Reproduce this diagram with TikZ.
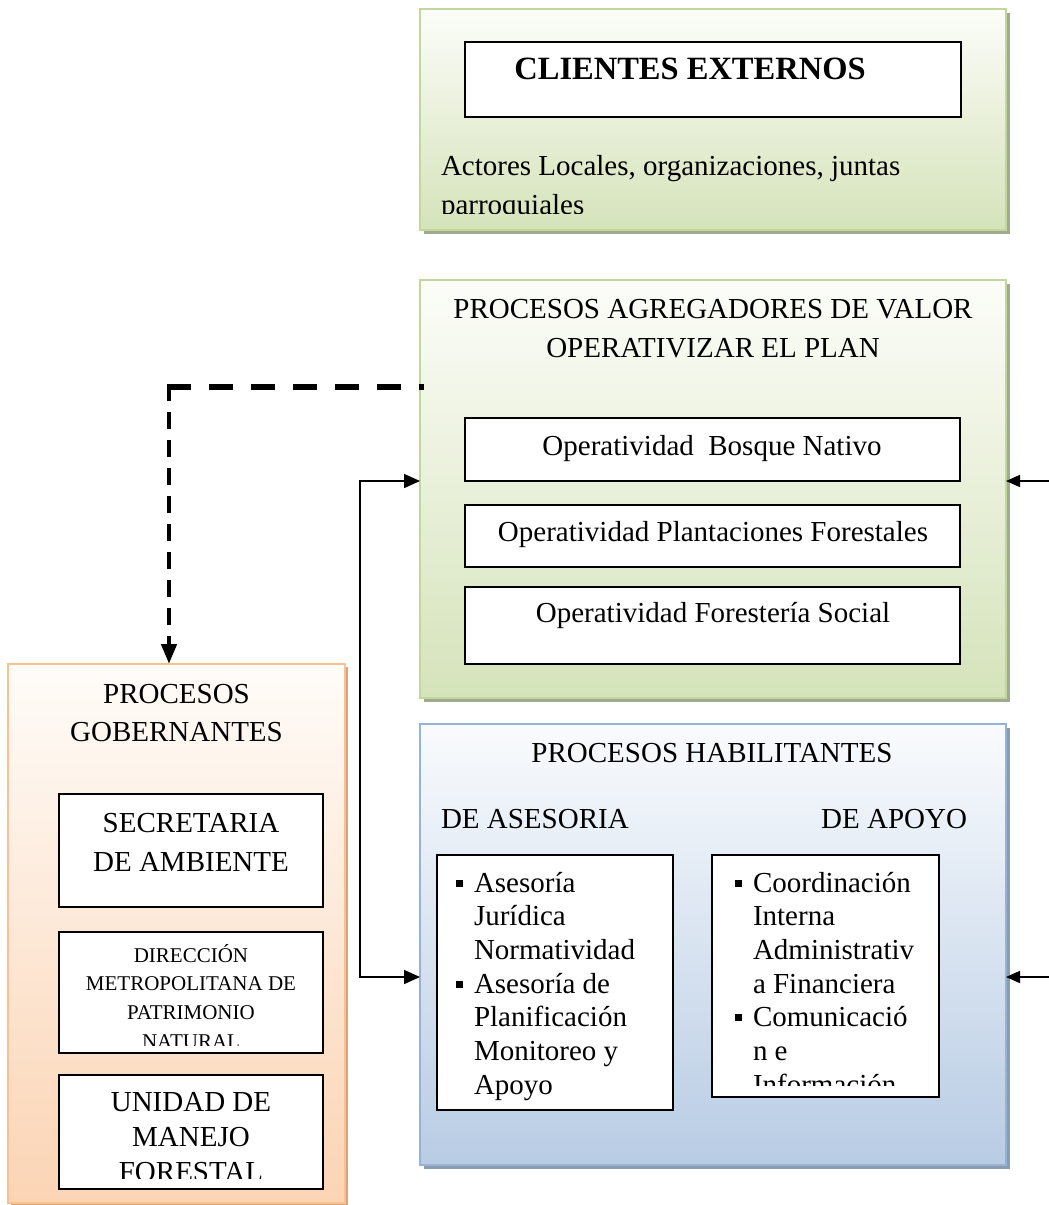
\documentclass[tikz,border=0pt]{standalone}
\usepackage{fontspec}
\setmainfont{Liberation Serif}
\usetikzlibrary{arrows.meta,shadows,calc}
\definecolor{grnB}{RGB}{213,227,186}
\definecolor{grnT}{RGB}{252,253,249}
\definecolor{grnL}{RGB}{195,214,155}
\definecolor{grnS}{RGB}{160,170,145}
\definecolor{bluB}{RGB}{184,204,228}
\definecolor{bluT}{RGB}{249,251,253}
\definecolor{bluL}{RGB}{149,179,215}
\definecolor{bluS}{RGB}{140,155,175}
\definecolor{orgB}{RGB}{251,212,180}
\definecolor{orgT}{RGB}{255,252,249}
\definecolor{orgL}{RGB}{250,192,144}
\definecolor{orgS}{RGB}{215,165,125}
\newcommand{\fsz}[2]{\fontsize{#1}{#2}\selectfont}
\newcommand{\blt}{\makebox[18pt][l]{\raisebox{5.5pt}{\rule{7pt}{7pt}}}}
\newcommand{\ind}{\hspace*{18pt}}
\begin{document}
\begin{tikzpicture}[x=1pt,y=-1pt,
  bx/.style={rectangle, inner sep=0pt, outer sep=0pt, anchor=north west},
  grnbox/.style={bx, draw=grnL, line width=1.5pt, top color=grnT, bottom color=grnB,
     general shadow={fill=grnS, shadow xshift=4pt, shadow yshift=-4pt}},
  blubox/.style={bx, draw=bluL, line width=1.5pt, top color=bluT, bottom color=bluB,
     general shadow={fill=bluS, shadow xshift=4pt, shadow yshift=-4pt}},
  orgbox/.style={bx, draw=orgL, line width=2pt, top color=orgT, bottom color=orgB,
     general shadow={fill=orgS, shadow xshift=3pt, shadow yshift=-3pt}},
  inbox/.style={bx, draw=black, line width=1.4pt, fill=white},
  lbl/.style={inner sep=0pt, outer sep=0pt},
  big/.style={lbl, font=\fsz{29}{39}},
  conn/.style={line width=1.6pt},
  dashH/.style={line width=6pt, dash pattern=on 24pt off 18pt},
  dashV/.style={line width=4.5pt, dash pattern=on 17pt off 11pt}
]
\useasboundingbox (0,0) rectangle (1049,1205);

% ---------- outer boxes ----------
\node[grnbox, minimum width=586pt, minimum height=221pt] (cli) at (420,9) {};
\node[grnbox, minimum width=586pt, minimum height=418pt] (agr) at (420,280) {};
\node[blubox, minimum width=586pt, minimum height=441pt] (hab) at (420,724) {};
\node[orgbox, minimum width=337pt, minimum height=539pt] (gob) at (8,664) {};

% ---------- clientes externos ----------
\node[inbox, minimum width=496pt, minimum height=75pt] (clix) at (465,42) {};
\node[lbl, anchor=base, font=\fsz{32.5}{38}\bfseries] (clit) at (690,79) {CLIENTES EXTERNOS};
\begin{scope}
\clip (425,130) rectangle (1000,213);
\node[big, anchor=north west, align=left] (act) at (441,147.7)
  {\strut Actores Locales, organizaciones, juntas\\ \strut parroquiales};
\end{scope}

% ---------- agregadores de valor ----------
\node[big, anchor=north, align=center] (agrt) at (713,290.7)
  {\strut PROCESOS AGREGADORES DE VALOR\\ \strut OPERATIVIZAR EL PLAN};
\node[inbox, minimum width=495pt, minimum height=63pt] (op1) at (465,418) {};
\node[inbox, minimum width=495pt, minimum height=62pt] (op2) at (465,505) {};
\node[inbox, minimum width=495pt, minimum height=77pt] (op3) at (465,587) {};
\node[big, anchor=base] (op1t) at (712,455) {Operatividad~ Bosque Nativo};
\node[big, anchor=base] (op2t) at (713,541) {Operatividad Plantaciones Forestales};
\node[big, anchor=base] (op3t) at (713,622) {Operatividad Forestería Social};

% ---------- gobernantes ----------
\node[lbl, font=\fsz{29}{38}, anchor=north, align=center] (gobt) at (176.5,676.4)
  {\strut PROCESOS\\ \strut GOBERNANTES};
\node[inbox, minimum width=264pt, minimum height=113pt] (sec) at (59,794) {};
\node[inbox, minimum width=264pt, minimum height=121pt] (dir) at (59,932) {};
\node[inbox, minimum width=264pt, minimum height=114pt] (uni) at (59,1075) {};
\node[big, anchor=north, align=center] (sect) at (191,804.7)
  {\strut SECRETARIA\\ \strut DE AMBIENTE};
\begin{scope}
\clip (60,933) rectangle (322,1045);
\node[lbl, font=\fsz{21}{28.7}, anchor=north, align=center] (dirt) at (191,941.9)
  {\strut DIRECCIÓN\\ \strut METROPOLITANA DE\\ \strut PATRIMONIO\\ \strut NATURAL};
\end{scope}
\begin{scope}
\clip (60,1076) rectangle (322,1178);
\node[lbl, font=\fsz{29}{35}, anchor=north, align=center] (unit) at (191,1086.5)
  {\strut UNIDAD DE\\ \strut MANEJO\\ \strut FORESTAL};
\end{scope}

% ---------- habilitantes ----------
\node[big, anchor=base] (habt) at (712,762) {PROCESOS HABILITANTES};
\node[big, anchor=base west] (aset) at (441,828) {DE ASESORIA};
\node[big, anchor=base east] (apot) at (967,828) {DE APOYO};
\node[inbox, minimum width=236pt, minimum height=255pt] (ase) at (437,855) {};
\node[inbox, minimum width=227pt, minimum height=242pt] (apo) at (712,855) {};
\node[lbl, font=\fsz{29}{33.7}, anchor=north west, align=left] (asel) at (456,868.4)
  {\strut\blt Asesoría\\ \strut\ind Jurídica\\ \strut\ind Normatividad\\
   \strut\blt Asesoría de\\ \strut\ind Planificación\\ \strut\ind Monitoreo y\\ \strut\ind Apoyo};
\begin{scope}
\clip (713,856) rectangle (938,1085);
\node[lbl, font=\fsz{29}{33.7}, anchor=north west, align=left] (apol) at (735,868.4)
  {\strut\blt Coordinación\\ \strut\ind Interna\\ \strut\ind Administrativ\\
   \strut\ind a Financiera\\ \strut\blt Comunicació\\ \strut\ind n e\\ \strut\ind Información};
\end{scope}

% ---------- connectors ----------
\coordinate (dc) at (169,387);
\draw[dashH] ($(dc)+(-2.25,0)$) -- ($(agr.west |- dc)+(4,0)$);
\draw[dashV, -{Triangle[length=20pt,width=15pt]}] ($(dc)+(0,-3)$) -- (gob.north -| dc);

\coordinate (sa) at (360,481);
\coordinate (sb) at (360,977);
\draw[conn, {Triangle[length=16pt,width=14pt]}-{Triangle[length=16pt,width=14pt]}]
  (agr.west |- sa) -- (sa) -- (sb) -- (hab.west |- sb);

\coordinate (ra) at (1049,481);
\coordinate (rb) at (1049,977);
\draw[conn, -{Triangle[length=14pt,width=12pt]}] (ra) -- (agr.east |- ra);
\draw[conn, -{Triangle[length=14pt,width=12pt]}] (rb) -- (hab.east |- rb);
\end{tikzpicture}
\end{document}
